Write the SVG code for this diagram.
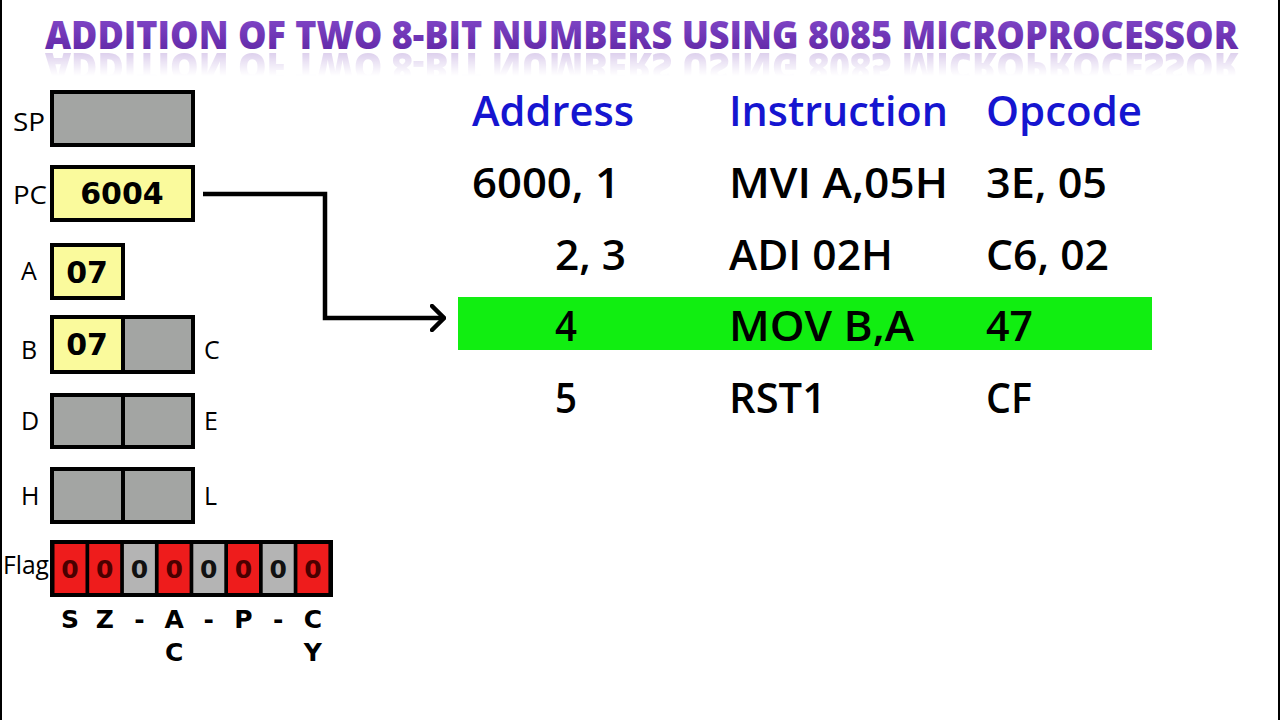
<svg xmlns="http://www.w3.org/2000/svg" width="1280" height="720" viewBox="0 0 1280 720">
<defs>
<linearGradient id="tg" x1="0" y1="0" x2="0" y2="1">
<stop offset="0" stop-color="#8a4fd0"/>
<stop offset="1" stop-color="#5a22a0"/>
</linearGradient>
<linearGradient id="fade" x1="0" y1="0" x2="0" y2="1">
<stop offset="0" stop-color="#fff" stop-opacity="0.25"/>
<stop offset="1" stop-color="#fff" stop-opacity="0"/>
</linearGradient>
<mask id="rm" maskUnits="userSpaceOnUse" x="0" y="50" width="1280" height="26">
<rect x="0" y="50" width="1280" height="26" fill="url(#fade)"/>
</mask>
<marker id="chev" viewBox="0 0 16 28" refX="14" refY="14" markerWidth="16" markerHeight="28" markerUnits="userSpaceOnUse" orient="auto">
<path d="M2,2 L14,14 L2,26" fill="none" stroke="#000" stroke-width="4.5" stroke-linecap="round" stroke-linejoin="miter"/>
</marker>
<style>
.title{font-family:"Open Sans","Liberation Sans",sans-serif;font-weight:800;font-size:39px;fill:url(#tg)}
.lbl{font-family:"Open Sans","Liberation Sans",sans-serif;font-weight:500;font-size:25px;fill:#000}
.reg{stroke:#000;stroke-width:4}
.gray{fill:#a3a5a3}
.yel{fill:#fafa9c}
.val{font-family:"DejaVu Sans","Liberation Sans",sans-serif;font-weight:700;font-size:30px;fill:#000;text-anchor:middle}
.fv{font-family:"DejaVu Sans","Liberation Sans",sans-serif;font-weight:700;font-size:25px;text-anchor:middle}
.fl{font-family:"DejaVu Sans","Liberation Sans",sans-serif;font-weight:700;font-size:25px;fill:#000;text-anchor:middle}
.hd{font-family:"Open Sans","Liberation Sans",sans-serif;font-weight:600;font-size:42px;fill:#1515d0}
.tx{font-family:"Open Sans","Liberation Sans",sans-serif;font-weight:600;font-size:42px;fill:#000}
.red{fill:#ee1c1c}
.gc{fill:#b4b4b4}
</style>
</defs>
<rect width="1280" height="720" fill="#fff"/>
<line x1="1" y1="0" x2="1" y2="720" stroke="#000" stroke-width="2"/>
<line x1="1279" y1="0" x2="1279" y2="720" stroke="#000" stroke-width="2"/>

<g id="title">
<text class="title" x="45" y="49" textLength="1193" lengthAdjust="spacingAndGlyphs">ADDITION OF TWO 8-BIT NUMBERS USING 8085 MICROPROCESSOR</text>
<g mask="url(#rm)">
<text class="title" x="45" y="-53" transform="scale(1,-1)" textLength="1193" lengthAdjust="spacingAndGlyphs">ADDITION OF TWO 8-BIT NUMBERS USING 8085 MICROPROCESSOR</text>
</g>
</g>

<g id="reg-sp">
<text class="lbl" x="13" y="131" textLength="32" lengthAdjust="spacingAndGlyphs">SP</text>
<rect class="reg gray" x="52" y="92" width="141" height="53"/>
</g>
<g id="reg-pc">
<text class="lbl" x="13" y="204" textLength="34" lengthAdjust="spacingAndGlyphs">PC</text>
<rect class="reg yel" x="52" y="167" width="141" height="53"/>
<text class="val" x="122" y="204">6004</text>
</g>
<g id="reg-a">
<text class="lbl" x="21" y="280">A</text>
<rect class="reg yel" x="52" y="245" width="71" height="53"/>
<text class="val" x="87" y="283">07</text>
</g>
<g id="reg-bc">
<text class="lbl" x="21" y="359">B</text>
<rect class="yel" x="52" y="317" width="71" height="55"/>
<rect class="gray" x="123" y="317" width="70" height="55"/>
<rect x="52" y="317" width="141" height="55" fill="none" stroke="#000" stroke-width="4"/>
<line x1="123" y1="317" x2="123" y2="372" stroke="#000" stroke-width="4"/>
<text class="val" x="87" y="355">07</text>
<text class="lbl" x="204" y="359">C</text>
</g>
<g id="reg-de">
<text class="lbl" x="21" y="430">D</text>
<rect class="reg gray" x="52" y="395" width="141" height="52"/>
<line x1="123" y1="395" x2="123" y2="447" stroke="#000" stroke-width="4"/>
<text class="lbl" x="204" y="430">E</text>
</g>
<g id="reg-hl">
<text class="lbl" x="21" y="505">H</text>
<rect class="reg gray" x="52" y="469" width="141" height="53"/>
<line x1="123" y1="469" x2="123" y2="522" stroke="#000" stroke-width="4"/>
<text class="lbl" x="204" y="505">L</text>
</g>

<g id="flag">
<text class="lbl" x="3" y="574" font-size="22" textLength="46" lengthAdjust="spacingAndGlyphs">Flag</text>
<rect x="50" y="540" width="283" height="57" fill="#000"/>
<rect class="red" x="54.5" y="544" width="31" height="49"/>
<rect class="red" x="89.2" y="544" width="31" height="49"/>
<rect class="gc" x="123.9" y="544" width="31" height="49"/>
<rect class="red" x="158.6" y="544" width="31" height="49"/>
<rect class="gc" x="193.3" y="544" width="31" height="49"/>
<rect class="red" x="228" y="544" width="31" height="49"/>
<rect class="gc" x="262.7" y="544" width="31" height="49"/>
<rect class="red" x="297.4" y="544" width="31" height="49"/>
<g class="fv">
<text x="70" y="578" fill="#4a0000">0</text>
<text x="104.7" y="578" fill="#4a0000">0</text>
<text x="139.4" y="578" fill="#111">0</text>
<text x="174.1" y="578" fill="#4a0000">0</text>
<text x="208.8" y="578" fill="#111">0</text>
<text x="243.5" y="578" fill="#4a0000">0</text>
<text x="278.2" y="578" fill="#111">0</text>
<text x="312.9" y="578" fill="#4a0000">0</text>
</g>
<g class="fl">
<text x="70" y="628">S</text>
<text x="104.7" y="628">Z</text>
<text x="139.4" y="628">-</text>
<text x="174.1" y="628">A</text>
<text x="208.8" y="628">-</text>
<text x="243.5" y="628">P</text>
<text x="278.2" y="628">-</text>
<text x="312.9" y="628">C</text>
<text x="174.1" y="661">C</text>
<text x="312.9" y="661">Y</text>
</g>
</g>

<g id="connectors">
<path d="M203,194 H325 V318 H444" fill="none" stroke="#000" stroke-width="4.5" marker-end="url(#chev)"/>
</g>

<g id="table">
<rect x="458" y="297" width="694" height="53" fill="#11ee11"/>
<text class="hd" x="472" y="126" textLength="162" lengthAdjust="spacingAndGlyphs">Address</text>
<text class="hd" x="729" y="126" textLength="219" lengthAdjust="spacingAndGlyphs">Instruction</text>
<text class="hd" x="986" y="126" textLength="156" lengthAdjust="spacingAndGlyphs">Opcode</text>

<text class="tx" x="472" y="198" textLength="148" lengthAdjust="spacingAndGlyphs">6000, 1</text>
<text class="tx" x="729" y="198" textLength="219" lengthAdjust="spacingAndGlyphs">MVI A,05H</text>
<text class="tx" x="986" y="198" textLength="121" lengthAdjust="spacingAndGlyphs">3E, 05</text>

<text class="tx" x="555" y="270" textLength="71" lengthAdjust="spacingAndGlyphs">2, 3</text>
<text class="tx" x="729" y="270" textLength="164" lengthAdjust="spacingAndGlyphs">ADI 02H</text>
<text class="tx" x="986" y="270" textLength="123" lengthAdjust="spacingAndGlyphs">C6, 02</text>

<text class="tx" x="555" y="341" textLength="22" lengthAdjust="spacingAndGlyphs">4</text>
<text class="tx" x="729" y="341" textLength="185" lengthAdjust="spacingAndGlyphs">MOV B,A</text>
<text class="tx" x="986" y="341" textLength="47" lengthAdjust="spacingAndGlyphs">47</text>

<text class="tx" x="555" y="413" textLength="22" lengthAdjust="spacingAndGlyphs">5</text>
<text class="tx" x="729" y="413" textLength="97" lengthAdjust="spacingAndGlyphs">RST1</text>
<text class="tx" x="986" y="413" textLength="46" lengthAdjust="spacingAndGlyphs">CF</text>
</g>
</svg>
